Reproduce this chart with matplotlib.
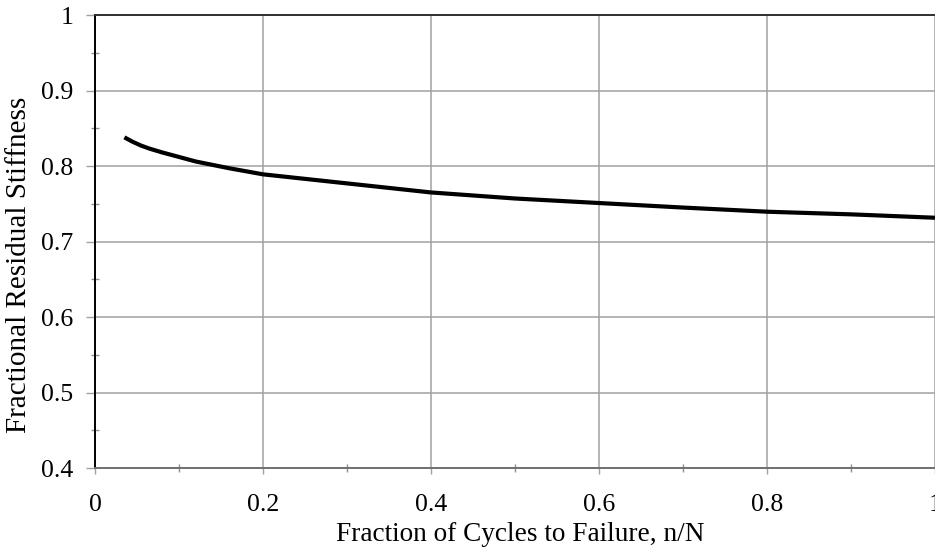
import matplotlib
matplotlib.use("Agg")
import matplotlib.pyplot as plt
from matplotlib.ticker import MultipleLocator

# Data
cycle_fraction = [0.035, 0.045, 0.055, 0.065, 0.08, 0.10, 0.12, 0.16, 0.20, 0.30, 0.40,
                  0.50, 0.60, 0.70, 0.80, 0.90, 1.00]
residual_stiffness = [0.838, 0.832, 0.827, 0.823, 0.818, 0.812, 0.806, 0.797, 0.789, 0.777,
                      0.765, 0.757, 0.751, 0.745, 0.7395, 0.736, 0.7315]

x_ticks = [0, 0.2, 0.4, 0.6, 0.8, 1]
x_tick_labels = ["0", "0.2", "0.4", "0.6", "0.8", "1"]
y_ticks = [0.4, 0.5, 0.6, 0.7, 0.8, 0.9, 1]
y_tick_labels = ["0.4", "0.5", "0.6", "0.7", "0.8", "0.9", "1"]

plt.rcParams['font.family'] = ['Liberation Serif', 'DejaVu Serif']

fig = plt.figure(figsize=(9.35, 5.5), dpi=100)
ax = fig.add_axes([0.1016, 0.149, 0.8984, 0.8237])

ax.plot(cycle_fraction, residual_stiffness, color='black', linewidth=3.0,
        solid_capstyle='butt', solid_joinstyle='round', zorder=3)

ax.set_xlim(0, 1)
ax.set_ylim(0.4, 1)
ax.set_xticks(x_ticks)
ax.set_xticklabels(x_tick_labels)
ax.set_yticks(y_ticks)
ax.set_yticklabels(y_tick_labels)
ax.xaxis.set_minor_locator(MultipleLocator(0.1))
ax.yaxis.set_minor_locator(MultipleLocator(0.05))

ax.grid(True, which='major', color='#a0a0a0', linewidth=1.1, zorder=0)
ax.set_axisbelow(True)

ax.tick_params(axis='y', which='major', direction='out', length=6.5, width=1,
               color='#a0a0a0', labelsize=18.5, pad=9)
ax.tick_params(axis='x', which='major', direction='out', length=4, width=1,
               color='#a0a0a0', labelsize=18.5, pad=15)
ax.tick_params(axis='both', which='minor', direction='inout', length=6, width=1,
               color='#909090')

ax.spines['right'].set_visible(False)
ax.spines['left'].set_color('black')
ax.spines['left'].set_linewidth(1.4)
ax.spines['top'].set_color('#303030')
ax.spines['top'].set_linewidth(1.4)
ax.spines['bottom'].set_color('#707070')
ax.spines['bottom'].set_linewidth(1.4)

ax.set_xlabel("Fraction of Cycles to Failure, n/N", fontsize=19.6)
ax.set_ylabel("Fractional Residual Stiffness", fontsize=21)
ax.xaxis.set_label_coords(0.506, -0.119)
ax.yaxis.set_label_coords(-0.075, 0.448)

fig.savefig("out.png", dpi=100)
